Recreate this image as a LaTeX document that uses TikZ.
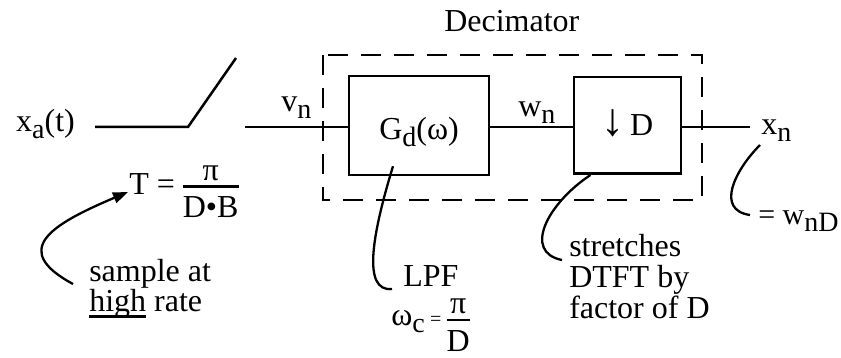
\documentclass[tikz,border=0pt]{standalone}
\usepackage{fontspec}
\setmainfont{Liberation Serif}
\usetikzlibrary{arrows.meta,positioning,calc}

\newcommand\lowtxt[1]{\raisebox{-7pt}{\fontsize{28}{28}\selectfont #1}}
\newcommand\fracstack[2]{{\setlength\arrayrulewidth{2.5pt}\begin{tabular}[b]{@{}c@{}}#1\\[-4.3pt]\hline\rule{0pt}{30pt}#2\end{tabular}}}
\newcommand\thickul[1]{\setbox0\hbox{#1}\rlap{\rule[-6pt]{\wd0}{2.5pt}}\box0\relax}

\begin{document}
\begin{tikzpicture}[x=1pt, y=-1pt, font=\fontsize{32}{31}\selectfont, line width=2.5pt,
  blk/.style={draw, inner sep=0pt},
  lbl/.style={anchor=base west, inner sep=0pt, align=left},
  dashbox/.style={line width=2.8pt, dash pattern=on 20pt off 13pt},
  note/.style={line width=2.3pt},
  pointer/.style={line width=2.3pt, -{Triangle[length=15pt,width=11pt]}}]
\useasboundingbox (0,0) rectangle (841,358);

% blocks
\node[blk, minimum width=140pt, minimum height=99pt, text height=36pt, text depth=7pt] (gbox) at (419,125.5) {G\lowtxt{d}(ω)};
\node[blk, right=82.5pt of gbox, minimum width=107pt, minimum height=96.5pt, text height=21pt, text depth=0pt] (dbox) {{\fontsize{46}{46}\selectfont ↓}\,D};
\draw[dashbox] (323,55) rectangle (702,200);
\node[lbl] (dec) at (443,32) {Decimator};

% sampler and wires
\node[lbl] (xa) at (15,132) {x\lowtxt{a}(t)};
\coordinate (swin) at (95,127);
\coordinate (swpiv) at (188,127);
\coordinate (swtip) at (236,58);
\coordinate (swout) at (245,127);
\coordinate (xnend) at (750,127);
\draw (swin) -- (swpiv) -- (swtip);
\draw (swout) -- (swout -| gbox.west);
\draw (gbox.east |- swout) -- (dbox.west |- swout);
\draw (dbox.east |- swout) -- (xnend);
\node[lbl] (vn) at (280,112) {v\lowtxt{n}};
\node[lbl] (wn) at (517,117) {w\lowtxt{n}};
\node[lbl] (xn) at (760,135) {x\lowtxt{n}};

% notes (base of a multi-line note is its last line)
\node[lbl] (tper) at (128,195) {T = \raisebox{-23pt}{\fracstack{π}{D•B}}};
\node[lbl] (samp) at (88,312) {sample at\\\thickul{high} rate};
\node[lbl] (lpf) at (402,287) {LPF};
\node[lbl] (wc) at (390,325) {ω\lowtxt{c}\,{\fontsize{20}{20}\selectfont =}\,\raisebox{-26pt}{\fracstack{π}{D}}};
\node[lbl] (str) at (568,318) {stretches\\DTFT by\\factor of D};
\node[lbl, font=\fontsize{30}{30}\selectfont] (eq) at (757,225) {= w\lowtxt{nD}};

\draw[pointer] ([xshift=-15pt,yshift=28pt]samp.base west) .. controls (10,250) and (50,225) .. ([yshift=3pt]tper.base west);
\draw[note] ([xshift=-26pt,yshift=10pt]gbox.south) .. controls (372,235) and (362,292) .. ([xshift=-10pt,yshift=-2pt]lpf.base west);
\draw[note] ([xshift=-37pt]dbox.south) .. controls (548,203) and (522,252) .. ([xshift=-6pt,yshift=58pt]str.base west);
\draw[note] ([yshift=-10pt]xn.base west) .. controls (735,170) and (715,210) .. ([xshift=-7pt,yshift=10pt]eq.base west);
\end{tikzpicture}
\end{document}
